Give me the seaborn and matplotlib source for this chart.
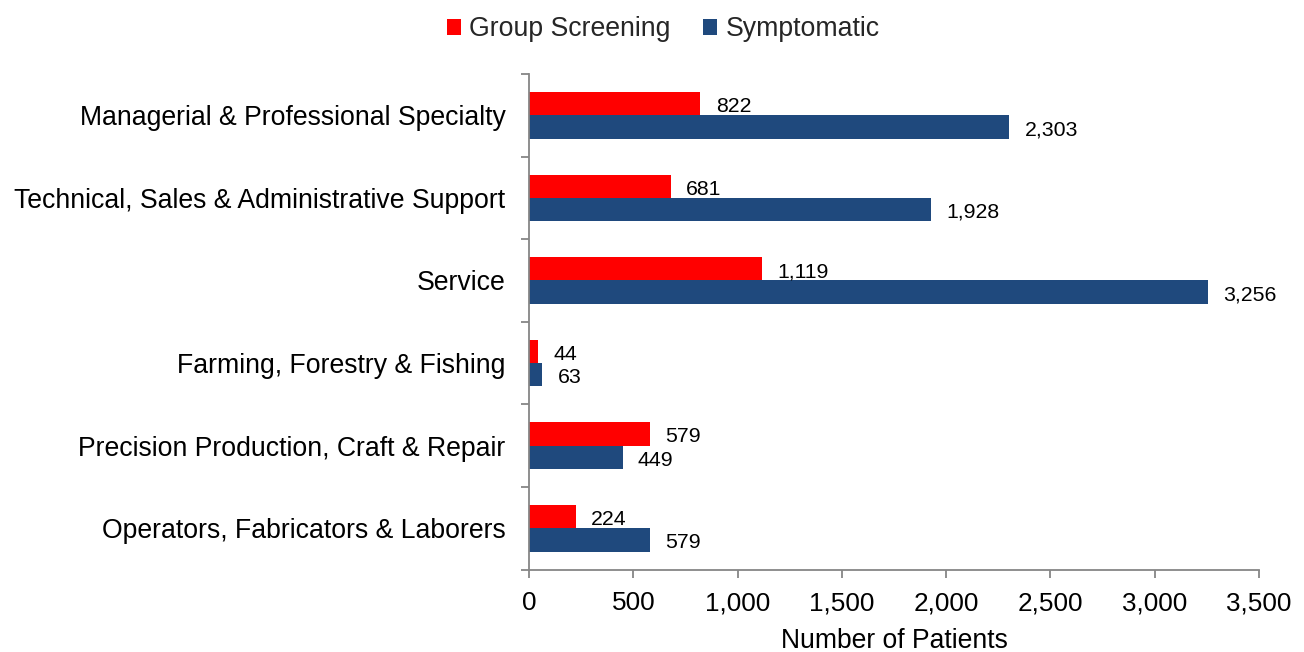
import matplotlib
matplotlib.use("Agg")
import matplotlib.pyplot as plt
import seaborn as sns
import pandas as pd
from matplotlib.ticker import FuncFormatter, FixedLocator

# Occupation groups and patient counts
occupations = [
    "Managerial & Professional Specialty",
    "Technical, Sales & Administrative Support",
    "Service",
    "Farming, Forestry & Fishing",
    "Precision Production, Craft & Repair",
    "Operators, Fabricators & Laborers",
]
group_screening = [822, 681, 1119, 44, 579, 224]
symptomatic = [2303, 1928, 3256, 63, 449, 579]
series_names = ["Group Screening", "Symptomatic"]
series_colors = ["#FF0000", "#1F497D"]

df = pd.DataFrame({
    "Occupation": occupations * 2,
    "Series": [series_names[0]] * len(occupations) + [series_names[1]] * len(occupations),
    "Patients": group_screening + symptomatic,
})

sns.set_theme(style="white")
plt.rcParams["font.family"] = ["Liberation Sans", "DejaVu Sans"]

fig = plt.figure(figsize=(13.04, 6.52), dpi=100)
ax = fig.add_axes([0.4057, 0.1264, 0.5598, 0.7601])

sns.barplot(
    data=df, y="Occupation", x="Patients", hue="Series",
    order=occupations, hue_order=series_names,
    palette=series_colors, orient="h", width=0.565,
    saturation=1, linewidth=0, ax=ax, legend=True,
)

# value labels at the bar ends, nudged slightly down to sit on the bar centre
for container in ax.containers:
    texts = ax.bar_label(container, labels=[f"{v:,.0f}" for v in container.datavalues],
                         padding=11, fontsize=15.3, color="#000000")
    for t in texts:
        x0, y0 = t.xyann
        t.xyann = (x0, y0 - 2)

ax.set_xlim(0, 3500)
ax.set_ylim(len(occupations) - 0.5, -0.5)
ax.set_xticks(range(0, 3501, 500))
ax.xaxis.set_major_formatter(FuncFormatter(lambda v, p: f"{v:,.0f}"))
ax.yaxis.set_minor_locator(FixedLocator([i - 0.5 for i in range(len(occupations) + 1)]))

spine_color = "#868686"
for side in ["top", "right"]:
    ax.spines[side].set_visible(False)
for side in ["left", "bottom"]:
    ax.spines[side].set_color(spine_color)
    ax.spines[side].set_linewidth(1.3)

ax.tick_params(axis="y", which="major", length=0, pad=17, labelsize=19.2, labelcolor="#000000")
ax.tick_params(axis="y", which="minor", left=True, length=6, width=1.3, color=spine_color)
ax.tick_params(axis="x", which="major", bottom=True, length=6, width=1.3, color=spine_color,
               pad=9.5, labelsize=18.8, labelcolor="#000000")

ax.set_ylabel("")
ax.set_xlabel("Number of Patients", fontsize=19.1, color="#000000", labelpad=9)

handles, labels = ax.get_legend_handles_labels()
ax.get_legend().remove()
fig.legend(handles, labels, loc="upper center", bbox_to_anchor=(0.5085, 1.012), ncol=2,
           frameon=False, fontsize=19.2, handlelength=0.55, handleheight=0.55,
           handletextpad=0.3, columnspacing=1.2)

fig.savefig("out.png", dpi=100, facecolor="white")
